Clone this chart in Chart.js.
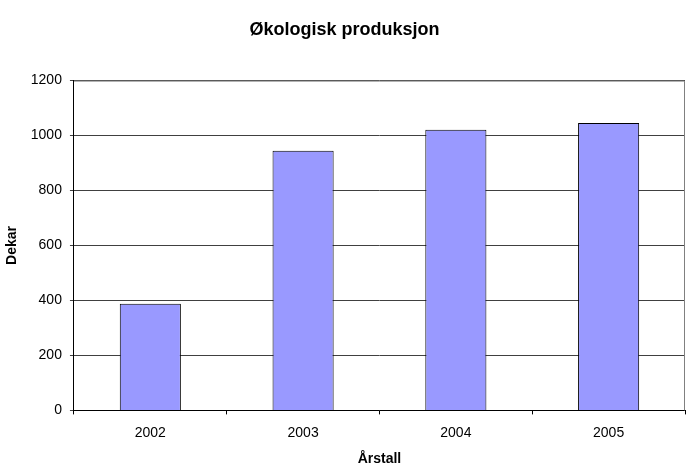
<!DOCTYPE html>
<html>
<head>
<meta charset="utf-8">
<script src="https://cdn.jsdelivr.net/npm/chart.js@4.4.0/dist/chart.umd.min.js"></script>
<style>
  body { margin: 0; background: #fff; }
  #wrap { width: 686px; height: 468px; }
</style>
</head>
<body>
<div id="wrap"><canvas id="grafico" width="686" height="468"></canvas></div>
<script>
// Økologisk produksjon - dekar per år
const aar = ['2002', '2003', '2004', '2005'];
const dekar = [388, 945, 1021, 1046];
const yTicks = [0, 200, 400, 600, 800, 1000, 1200];

const fontNavn = '"Liberation Sans", Arial, sans-serif';

// ramme oppe og til høyre i grått, som i Excel
const ramme = {
    id: 'ramme',
    afterDatasetsDraw(chart) {
        const { ctx, chartArea: a } = chart;
        ctx.save();
        ctx.strokeStyle = '#808080';
        ctx.lineWidth = 1;
        ctx.beginPath();
        ctx.moveTo(a.left, a.top + 0.5);
        ctx.lineTo(a.right - 0.5, a.top + 0.5);
        ctx.lineTo(a.right - 0.5, a.bottom);
        ctx.stroke();
        ctx.restore();
    }
};

const ctx = document.getElementById('grafico').getContext('2d');
const grafico = new Chart(ctx, {
    type: 'bar',
    data: {
        labels: aar,
        datasets: [{
            label: 'Dekar',
            data: dekar,
            backgroundColor: '#9999FF',
            borderColor: '#000000',
            borderWidth: 1,
            barPercentage: 1,
            categoryPercentage: 0.4
        }]
    },
    options: {
        responsive: false,
        animation: false,
        layout: { padding: { left: 4, right: 1, top: 0, bottom: 0 } },
        plugins: {
            legend: { display: false },
            tooltip: { enabled: false },
            title: {
                display: true,
                text: 'Økologisk produksjon',
                color: '#000',
                font: { family: fontNavn, size: 18, weight: 'bold' },
                padding: { top: 19, bottom: 40 }
            }
        },
        scales: {
            x: {
                grid: {
                    offset: true,
                    drawOnChartArea: false,
                    color: '#000',
                    tickLength: 4
                },
                border: { color: '#000' },
                ticks: {
                    color: '#000',
                    font: { family: fontNavn, size: 14 },
                    padding: 10
                },
                title: {
                    display: true,
                    text: 'Årstall',
                    color: '#000',
                    font: { family: fontNavn, size: 14, weight: 'bold' },
                    padding: { top: 0, bottom: 0 }
                }
            },
            y: {
                min: 0,
                max: 1200,
                afterBuildTicks(axis) {
                    axis.ticks = yTicks.map(v => ({ value: v }));
                },
                grid: {
                    color: '#404040',
                    tickLength: 4
                },
                border: { color: '#000' },
                ticks: {
                    color: '#000',
                    font: { family: fontNavn, size: 14 },
                    padding: 8,
                    callback: v => String(v)
                },
                title: {
                    display: true,
                    text: 'Dekar',
                    color: '#000',
                    font: { family: fontNavn, size: 14, weight: 'bold' },
                    padding: { top: 0, bottom: 2 }
                }
            }
        }
    },
    plugins: [ramme]
});
</script>
</body>
</html>
